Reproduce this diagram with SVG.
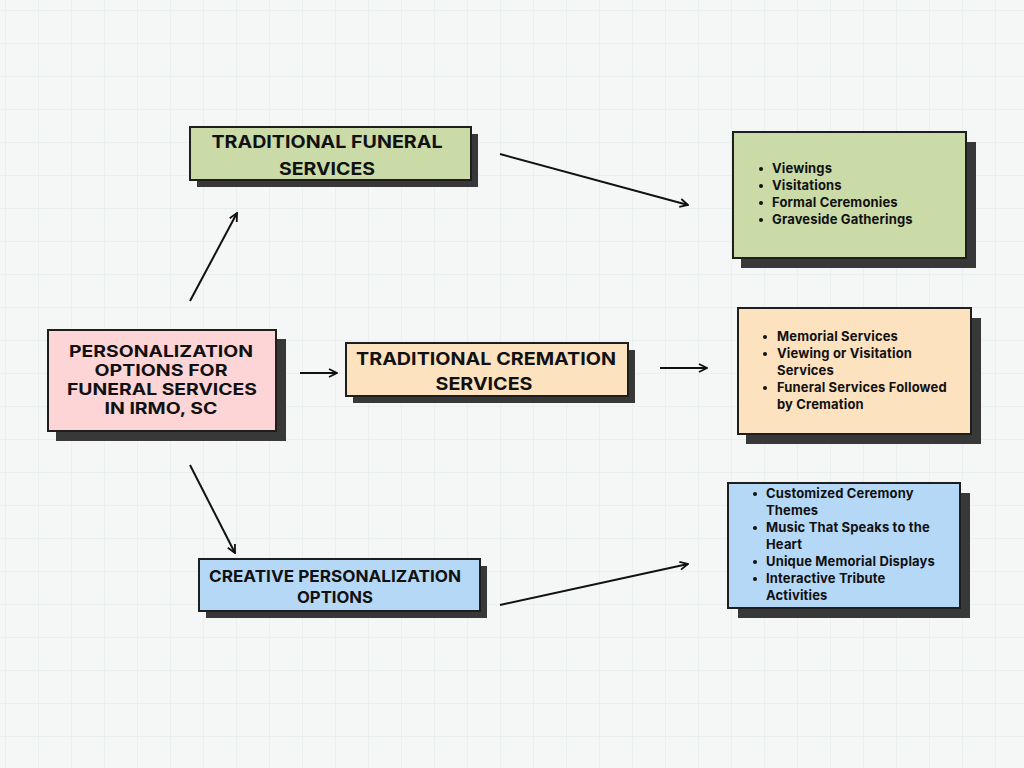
<svg xmlns="http://www.w3.org/2000/svg" width="1024" height="768" viewBox="0 0 1024 768">
<defs>
<pattern id="grid" x="5" y="10" width="33" height="33" patternUnits="userSpaceOnUse">
<path d="M0 0H33M0 0V33" fill="none" stroke="#e0e7ea" stroke-width="1"/>
</pattern>
<marker id="arr" viewBox="0 0 10 10" refX="9" refY="5" markerWidth="10" markerHeight="10" markerUnits="userSpaceOnUse" orient="auto">
<path d="M1 1L9 5L1 9" fill="none" stroke="#111" stroke-width="1.8" stroke-linejoin="miter"/>
</marker>
</defs>
<style>
.shadow{fill:#383838}
.box{stroke:#1e1e1e;stroke-width:2}
.head{font-family:Inter,"Liberation Sans",sans-serif;font-weight:700;font-size:17.5px;fill:#111;text-anchor:middle}
.main{font-size:15.5px}
.item{font-family:Inter,"Liberation Sans",sans-serif;font-weight:700;font-size:13px;letter-spacing:0.15px;fill:#111}
.dot{fill:#111}
.conn{stroke:#111;stroke-width:2;fill:none;marker-end:url(#arr)}
</style>
<rect width="1024" height="768" fill="#f5f6f6"/>
<rect width="1024" height="768" fill="url(#grid)"/>

<g id="connectors">
<line class="conn" x1="190" y1="301" x2="237" y2="213"/>
<line class="conn" x1="500" y1="154" x2="688" y2="205"/>
<line class="conn" x1="300" y1="373" x2="337" y2="373"/>
<line class="conn" x1="660" y1="368" x2="707" y2="368"/>
<line class="conn" x1="190" y1="465" x2="235" y2="553"/>
<line class="conn" x1="500" y1="605" x2="688" y2="564"/>
</g>

<g id="main">
<rect class="shadow" x="56" y="339" width="230" height="102"/>
<rect class="box" x="48" y="330" width="228" height="101" fill="#fdd5d6"/>
<text class="head main" x="161" y="357" textLength="184" lengthAdjust="spacingAndGlyphs">PERSONALIZATION</text>
<text class="head main" x="161" y="376" textLength="133" lengthAdjust="spacingAndGlyphs">OPTIONS FOR</text>
<text class="head main" x="162" y="395" textLength="190" lengthAdjust="spacingAndGlyphs">FUNERAL SERVICES</text>
<text class="head main" x="161" y="414" textLength="113" lengthAdjust="spacingAndGlyphs">IN IRMO, SC</text>
</g>

<g id="traditional-funeral">
<rect class="shadow" x="197" y="134" width="281" height="53"/>
<rect class="box" x="190" y="127" width="281" height="53" fill="#cadba7"/>
<text class="head" x="327" y="148" textLength="231" lengthAdjust="spacingAndGlyphs">TRADITIONAL FUNERAL</text>
<text class="head" x="327" y="175" textLength="96" lengthAdjust="spacingAndGlyphs">SERVICES</text>
</g>

<g id="funeral-list">
<rect class="shadow" x="741" y="142" width="235" height="126"/>
<rect class="box" x="733" y="132" width="233" height="126" fill="#cadba7"/>
<circle class="dot" cx="761" cy="169" r="2"/><text class="item" x="772" y="173">Viewings</text>
<circle class="dot" cx="761" cy="186" r="2"/><text class="item" x="772" y="190">Visitations</text>
<circle class="dot" cx="761" cy="203" r="2"/><text class="item" x="772" y="207">Formal Ceremonies</text>
<circle class="dot" cx="761" cy="220" r="2"/><text class="item" x="772" y="224">Graveside Gatherings</text>
</g>

<g id="cremation">
<rect class="shadow" x="353" y="350" width="282" height="53"/>
<rect class="box" x="346" y="343" width="282" height="53" fill="#fde2c0"/>
<text class="head" x="486" y="365" textLength="260" lengthAdjust="spacingAndGlyphs">TRADITIONAL CREMATION</text>
<text class="head" x="484" y="390" textLength="97" lengthAdjust="spacingAndGlyphs">SERVICES</text>
</g>

<g id="cremation-list">
<rect class="shadow" x="746" y="318" width="235" height="126"/>
<rect class="box" x="738" y="308" width="233" height="126" fill="#fde2c0"/>
<circle class="dot" cx="765" cy="337" r="2"/><text class="item" x="777" y="341">Memorial Services</text>
<circle class="dot" cx="765" cy="354" r="2"/><text class="item" x="777" y="358">Viewing or Visitation</text>
<text class="item" x="777" y="375">Services</text>
<circle class="dot" cx="765" cy="388" r="2"/><text class="item" x="777" y="392">Funeral Services Followed</text>
<text class="item" x="777" y="409">by Cremation</text>
</g>

<g id="creative">
<rect class="shadow" x="206" y="566" width="281" height="52"/>
<rect class="box" x="199" y="559" width="281" height="52" fill="#b6d8f7"/>
<text class="head" x="335" y="582" style="font-size:16px" textLength="252" lengthAdjust="spacingAndGlyphs">CREATIVE PERSONALIZATION</text>
<text class="head" x="335" y="603" style="font-size:16px" textLength="76" lengthAdjust="spacingAndGlyphs">OPTIONS</text>
</g>

<g id="creative-list">
<rect class="shadow" x="738" y="493" width="232" height="125"/>
<rect class="box" x="728" y="483" width="232" height="125" fill="#b6d8f7"/>
<circle class="dot" cx="755" cy="494" r="2"/><text class="item" x="766" y="498">Customized Ceremony</text>
<text class="item" x="766" y="515">Themes</text>
<circle class="dot" cx="755" cy="528" r="2"/><text class="item" x="766" y="532">Music That Speaks to the</text>
<text class="item" x="766" y="549">Heart</text>
<circle class="dot" cx="755" cy="562" r="2"/><text class="item" x="766" y="566">Unique Memorial Displays</text>
<circle class="dot" cx="755" cy="579" r="2"/><text class="item" x="766" y="583">Interactive Tribute</text>
<text class="item" x="766" y="600">Activities</text>
</g>
</svg>
